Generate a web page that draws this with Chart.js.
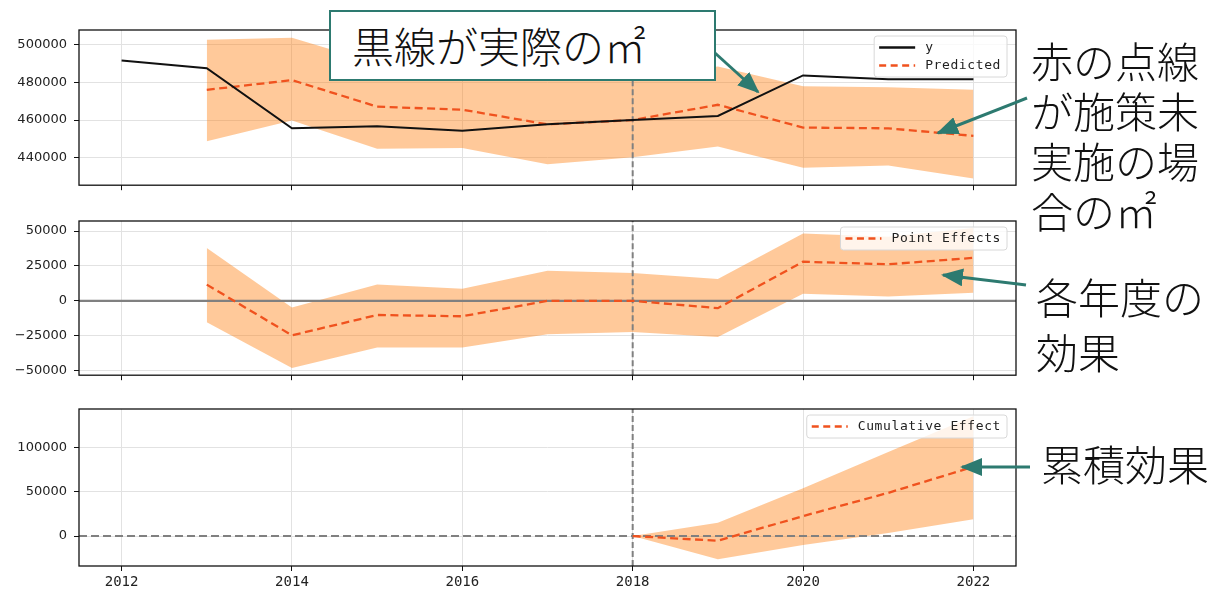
<!DOCTYPE html>
<html>
<head>
<meta charset="utf-8">
<script src="https://cdn.jsdelivr.net/npm/chart.js@4.4.1/dist/chart.umd.min.js"></script>
<style>
  body { margin: 0; background: #fff; width: 1212px; height: 589px; overflow: hidden; position: relative; }
  .panel { position: absolute; left: 0; width: 1212px; }
  #p1 { top: 0; height: 200px; }
  #p2 { top: 200px; height: 190px; }
  #p3 { top: 390px; height: 199px; }
  .note { position: absolute; font-family: "Noto Sans CJK JP", sans-serif; font-size: 42px; font-weight: 300; color: #111; white-space: nowrap; z-index: 4; }
  #callout { left: 329px; top: 10px; height: 67px; width: 362px; border: 2px solid #2D7A70; background: #fff; line-height: 66px; padding-left: 21px; }
  #arrows { position: absolute; left: 0; top: 0; z-index: 5; }
</style>
</head>
<body>
<div class="panel" id="p1"><canvas id="c1"></canvas></div>
<div class="panel" id="p2"><canvas id="c2"></canvas></div>
<div class="panel" id="p3"><canvas id="c3"></canvas></div>

<div class="note" id="callout">黒線が実際の㎡</div>
<div class="note" style="left:1031px; top:35px; line-height:50px;">赤の点線<br>が施策未<br>実施の場<br>合の㎡</div>
<div class="note" style="left:1036px; top:268px; line-height:55px;">各年度の<br>効果</div>
<div class="note" style="left:1041px; top:438px; line-height:50px;">累積効果</div>

<svg id="arrows" width="1212" height="589">
  <defs>
    <marker id="head" markerUnits="userSpaceOnUse" markerWidth="22" markerHeight="18" refX="20" refY="9" orient="auto">
      <path d="M0,0 L22,9 L0,18 z" fill="#2D7A70"/>
    </marker>
  </defs>
  <g stroke="#2D7A70" stroke-width="3" marker-end="url(#head)">
    <line x1="715" y1="53" x2="758" y2="92"/>
    <line x1="1027" y1="98" x2="938" y2="133"/>
    <line x1="1026" y1="285" x2="943" y2="275"/>
    <line x1="1030" y1="467" x2="962" y2="467"/>
  </g>
</svg>

<script>
// values, one per year 2012-2022
const years = [2012, 2013, 2014, 2015, 2016, 2017, 2018, 2019, 2020, 2021, 2022];
const actual = [491600, 487500, 455600, 456700, 454300, 457700, 460000, 462200, 483700, 481700, 481700];
const predicted = [null, 476000, 481200, 467100, 465500, 457700, 460000, 468100, 456000, 455600, 451600];
const predUpper = [null, 502600, 503700, 490200, 487800, 481700, 482400, 488400, 477900, 477400, 476100];
const predLower = [null, 448800, 459800, 444700, 445200, 436500, 440300, 446000, 434700, 435800, 429000];
const pointEffect = [null, 11600, -24800, -10200, -11100, 0, 0, -5300, 28000, 26200, 30800];
const pointUpper = [null, 37900, -4800, 11600, 8600, 21500, 19900, 15600, 48300, 45900, 52200];
const pointLower = [null, -15400, -48200, -33500, -33500, -24000, -22400, -25900, 5100, 3000, 5800];
const cumEffect = [null, null, null, null, null, null, 0, -5300, 22600, 48900, 78400];
const cumUpper = [null, null, null, null, null, null, 0, 15000, 54000, 95000, 135700];
const cumLower = [null, null, null, null, null, null, 0, -26200, -10200, 3500, 18900];
const interventionYear = 2018;

// axis ticks and limits
const xTicks = [2012, 2014, 2016, 2018, 2020, 2022];
const xRange = [2011.5, 2022.5];
const topTicks = [440000, 460000, 480000, 500000];
const topRange = [425400, 507800];
const midTicks = [-50000, -25000, 0, 25000, 50000];
const midRange = [-53400, 57250];
const botTicks = [0, 50000, 100000];
const botRange = [-33900, 143800];

const RED = '#F0521E';
const BAND = 'rgba(255,127,14,0.42)';
const GREY = '#808080';
const DASH = [8, 4.5];

function pts(arr) {
  return years.map((x, i) => ({ x: x, y: arr[i] })).filter(p => p.y !== null);
}

// black frame round the plot area (matplotlib style)
const frame = {
  id: 'frame',
  afterDatasetsDraw(chart) {
    const a = chart.chartArea, ctx = chart.ctx;
    ctx.save();
    ctx.strokeStyle = '#111';
    ctx.lineWidth = 1.3;
    ctx.strokeRect(a.left, a.top, a.right - a.left, a.bottom - a.top);
    ctx.restore();
  }
};

// legend box in the upper right corner, drawn over the data
const boxLegend = {
  id: 'boxLegend',
  afterDraw(chart, args, opts) {
    const items = opts.items;
    if (!items) return;
    const ctx = chart.ctx, a = chart.chartArea;
    ctx.save();
    ctx.font = '13px "DejaVu Sans Mono"';
    ctx.letterSpacing = '0.6px';
    const textW = Math.max(...items.map(it => ctx.measureText(it.label).width));
    const rowH = 18;
    const w = 5 + 36 + 10 + textW + 6;
    const h = items.length * rowH + 5;
    const x = a.right - 9 - w, y = a.top + 6;
    ctx.beginPath();
    ctx.roundRect(x, y, w, h, 3);
    ctx.fillStyle = 'rgba(255,255,255,0.8)';
    ctx.fill();
    ctx.strokeStyle = '#d8d8d8';
    ctx.lineWidth = 1;
    ctx.stroke();
    items.forEach((it, i) => {
      const cy = y + 2.5 + rowH * i + rowH / 2;
      ctx.beginPath();
      ctx.setLineDash(it.dash || []);
      ctx.strokeStyle = it.color;
      ctx.lineWidth = 2.3;
      ctx.moveTo(x + 5, cy);
      ctx.lineTo(x + 41, cy);
      ctx.stroke();
      ctx.setLineDash([]);
      ctx.fillStyle = '#222';
      ctx.textBaseline = 'middle';
      ctx.textAlign = 'left';
      ctx.fillText(it.label, x + 51, cy);
    });
    ctx.restore();
  }
};

function yFmt(v) {
  return v < 0 ? '\u2212' + Math.abs(v) : String(v);
}

function makePanel(id, datasets, yTicks, yRange, padTop, xHeight, showXLabels, legendItems) {
  new Chart(document.getElementById(id), {
    type: 'line',
    data: { datasets: datasets },
    plugins: [frame, boxLegend],
    options: {
      responsive: true,
      maintainAspectRatio: false,
      animation: false,
      layout: { padding: { left: 0, right: 196, top: padTop, bottom: 0 } },
      elements: { point: { radius: 0 }, line: { tension: 0 } },
      plugins: {
        legend: { display: false },
        tooltip: { enabled: false },
        boxLegend: { items: legendItems }
      },
      scales: {
        x: {
          type: 'linear',
          min: xRange[0], max: xRange[1],
          afterBuildTicks: s => { s.ticks = xTicks.map(v => ({ value: v })); },
          afterFit: s => { s.height = xHeight; },
          grid: { color: '#e2e2e2', tickColor: '#111', tickLength: 5 },
          border: { display: false },
          ticks: {
            display: showXLabels, padding: 3, color: '#222',
            font: { family: 'DejaVu Sans Mono', size: 14 },
            callback: v => String(v)
          }
        },
        y: {
          min: yRange[0], max: yRange[1],
          afterBuildTicks: s => { s.ticks = yTicks.map(v => ({ value: v })); },
          afterFit: s => { s.width = 79; },
          grid: { color: '#e2e2e2', tickColor: '#111', tickLength: 5 },
          border: { display: false },
          ticks: {
            padding: 7, color: '#222',
            font: { family: 'DejaVu Sans', size: 13 },
            callback: yFmt
          }
        }
      }
    }
  });
}

function vline(range) {
  return { data: [{ x: interventionYear, y: range[0] }, { x: interventionYear, y: range[1] }],
    borderColor: GREY, borderWidth: 2, borderDash: [6, 3], fill: false, order: 3 };
}

// top: actual vs predicted
makePanel('c1', [
  { data: pts(actual), borderColor: '#111', borderWidth: 2, fill: false, order: 1 },
  { data: pts(predicted), borderColor: RED, borderWidth: 2.3, borderDash: DASH, fill: false, order: 2 },
  vline(topRange),
  { data: pts(predUpper), borderColor: 'transparent', backgroundColor: BAND, fill: 4, order: 4 },
  { data: pts(predLower), borderColor: 'transparent', fill: false, order: 5 }
], topTicks, topRange, 30, 12.5, false,
  [{ label: 'y', color: '#111' }, { label: 'Predicted', color: RED, dash: [7, 4.5] }]);

// middle: point effects
makePanel('c2', [
  { data: pts(pointEffect), borderColor: RED, borderWidth: 2.3, borderDash: DASH, fill: false, order: 1 },
  vline(midRange),
  { data: [{ x: xRange[0], y: 0 }, { x: xRange[1], y: 0 }], borderColor: GREY, borderWidth: 2.3, fill: false, order: 4 },
  { data: pts(pointUpper), borderColor: 'transparent', backgroundColor: BAND, fill: 4, order: 5 },
  { data: pts(pointLower), borderColor: 'transparent', fill: false, order: 6 }
], midTicks, midRange, 21, 13, false,
  [{ label: 'Point Effects', color: RED, dash: [7, 4.5] }]);

// bottom: cumulative effect
makePanel('c3', [
  { data: pts(cumEffect), borderColor: RED, borderWidth: 2.3, borderDash: DASH, fill: false, order: 1 },
  vline(botRange),
  { data: [{ x: xRange[0], y: 0 }, { x: xRange[1], y: 0 }], borderColor: GREY, borderWidth: 2, borderDash: [8, 4], fill: false, order: 4 },
  { data: pts(cumUpper), borderColor: 'transparent', backgroundColor: BAND, fill: 4, order: 5 },
  { data: pts(cumLower), borderColor: 'transparent', fill: false, order: 6 }
], botTicks, botRange, 19, 23, true,
  [{ label: 'Cumulative Effect', color: RED, dash: [7, 4.5] }]);
</script>
</body>
</html>
